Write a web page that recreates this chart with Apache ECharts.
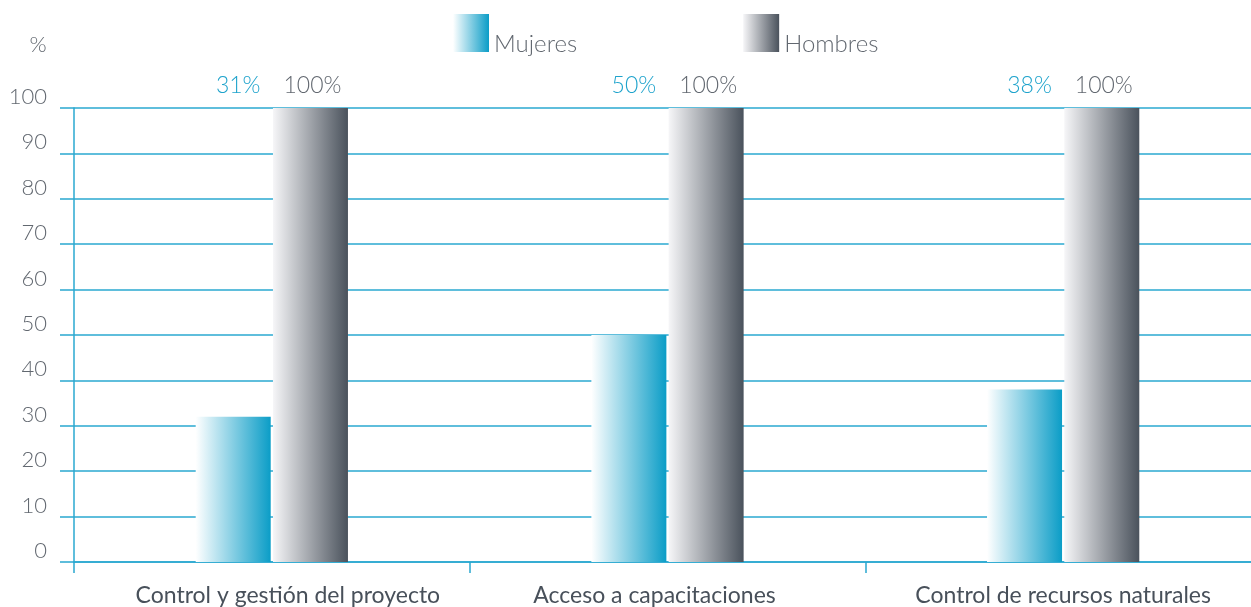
<!DOCTYPE html>
<html>
<head>
<meta charset="utf-8">
<script src="https://cdn.jsdelivr.net/npm/echarts@6/dist/echarts.min.js"></script>
<style>
  html, body { margin: 0; padding: 0; background: #fff; overflow: hidden; }
  #chart { width: 1261px; height: 607px; }
</style>
</head>
<body>
<div id="chart"></div>
<script>
const categories = ["Control y gestión del proyecto", "Acceso a capacitaciones", "Control de recursos naturales"];
const mujeres = [32, 50, 38];
const hombres = [100, 100, 100];
const mujeresLabels = ["31%", "50%", "38%"];
const hombresLabels = ["100%", "100%", "100%"];
const labelRow = [100, 100, 100];

const gridColor = "#2aa8d0";
const textGray = "#626870";
const font = "Lato";

// category labels in the original are not quite centred under their bars
const labelPads = [[0, 0, 0, 32], [0, 26, 0, 0], [0, 0, 0, 0]];

// chart is 10px wider than the window so the last category runs off the right edge
const myChart = echarts.init(document.getElementById("chart"));

const grad = (from, to) =>
  new echarts.graphic.LinearGradient(0, 0, 1, 0, [
    { offset: 0, color: from },
    { offset: 1, color: to },
  ]);

myChart.setOption({
  animation: false,
  textStyle: { fontFamily: font, fontWeight: 300 },
  legend: {
    left: 448,
    top: 9,
    itemWidth: 36,
    itemHeight: 38,
    itemGap: 166,
    icon: "rect",
    data: ["Mujeres", "Hombres"],
    formatter: "{t|{name}}",
    textStyle: {
      fontFamily: font,
      fontWeight: 300,
      fontSize: 24,
      color: textGray,
      rich: {
        t: {
          fontFamily: font,
          fontWeight: 300,
          fontSize: 24,
          color: textGray,
          padding: [22, 0, 0, 0],
        },
      },
    },
  },
  grid: { left: 74, top: 108, right: 0, bottom: 45 },
  xAxis: [
    {
      type: "category",
      data: categories.map((c, i) => ({ value: c, textStyle: { padding: labelPads[i] } })),
      axisLine: { show: true, lineStyle: { color: gridColor, width: 1.5 } },
      axisTick: { show: true, length: 11, interval: 0, lineStyle: { color: gridColor, width: 1.5 } },
      axisLabel: {
        interval: 0,
        fontFamily: font,
        fontWeight: 400,
        fontSize: 23,
        color: "#48505a",
        margin: 22,
      },
    },
    {
      type: "category",
      data: categories,
      show: false,
    },
  ],
  yAxis: {
    type: "value",
    min: 0,
    max: 100,
    interval: 10,
    name: "%",
    nameLocation: "end",
    nameGap: 52,
    nameTextStyle: {
      fontFamily: font,
      fontWeight: 300,
      fontSize: 22,
      color: textGray,
      padding: [0, 72, 0, 0],
    },
    axisLine: { show: true, lineStyle: { color: gridColor, width: 1.5 } },
    axisTick: { show: true, length: 14, lineStyle: { color: gridColor, width: 1.5 } },
    splitLine: { show: true, lineStyle: { color: gridColor, width: 1.5 } },
    axisLabel: {
      fontFamily: font,
      fontWeight: 300,
      fontSize: 22,
      color: textGray,
      margin: 27,
      verticalAlign: "bottom",
      lineHeight: 22,
    },
  },
  series: [
    {
      name: "Mujeres",
      type: "bar",
      barWidth: 75,
      barGap: "3%",
      data: mujeres,
      itemStyle: { color: grad("#ffffff", "#0b9dc7") },
    },
    {
      name: "Hombres",
      type: "bar",
      barWidth: 75,
      barGap: "3%",
      data: hombres,
      itemStyle: { color: grad("#f6f6f8", "#4a525c") },
    },
    {
      type: "bar",
      xAxisIndex: 1,
      barWidth: 75,
      barGap: "3%",
      silent: true,
      data: labelRow,
      itemStyle: { color: "rgba(0,0,0,0)" },
      label: {
        show: true,
        position: "top",
        distance: 11,
        offset: [5, 0],
        fontFamily: font,
        fontWeight: 300,
        fontSize: 23,
        color: "#1ea3cc",
        formatter: (p) => mujeresLabels[p.dataIndex],
      },
    },
    {
      type: "bar",
      xAxisIndex: 1,
      barWidth: 75,
      barGap: "3%",
      silent: true,
      data: labelRow,
      itemStyle: { color: "rgba(0,0,0,0)" },
      label: {
        show: true,
        position: "top",
        distance: 11,
        offset: [2, 0],
        fontFamily: font,
        fontWeight: 300,
        fontSize: 23,
        color: textGray,
        formatter: (p) => hombresLabels[p.dataIndex],
      },
    },
  ],
});
</script>
</body>
</html>
